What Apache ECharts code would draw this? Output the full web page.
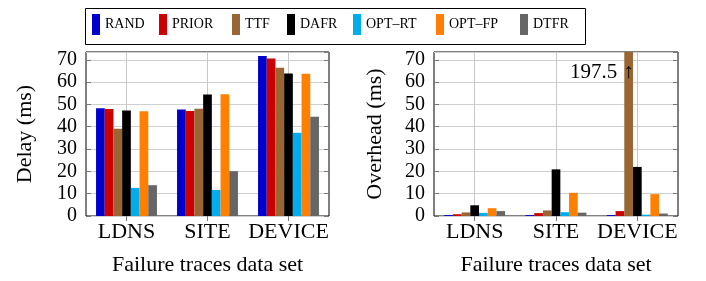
<!DOCTYPE html>
<html><head><meta charset="utf-8">
<script src="https://cdn.jsdelivr.net/npm/echarts@6/dist/echarts.min.js"></script>
<style>html,body{margin:0;padding:0;background:#fff}#c{width:706px;height:281px}</style>
</head><body><div id="c"></div>
<script>
const categories = ['LDNS', 'SITE', 'DEVICE'];
const seriesNames = ['RAND', 'PRIOR', 'TTF', 'DAFR', 'OPT–RT', 'OPT–FP', 'DTFR'];
const seriesColors = ['#0000cc', '#cc0000', '#996633', '#000000', '#00aeef', '#ff8000', '#666666'];

const delayRAND  = [48.3, 47.7, 71.7];
const delayPRIOR = [48.0, 47.1, 70.6];
const delayTTF   = [39.1, 48.1, 66.4];
const delayDAFR  = [47.3, 54.5, 63.9];
const delayOPTRT = [12.6, 11.7, 37.3];
const delayOPTFP = [47.0, 54.6, 63.8];
const delayDTFR  = [13.8, 20.1, 44.5];

const overheadRAND  = [0.4, 0.4, 0.4];
const overheadPRIOR = [0.8, 1.3, 2.2];
const overheadTTF   = [1.6, 2.5, 197.5];
const overheadDAFR  = [4.8, 20.9, 22.0];
const overheadOPTRT = [1.4, 1.7, 0.6];
const overheadOPTFP = [3.5, 10.4, 9.8];
const overheadDTFR  = [2.2, 1.5, 1.1];

const yTickLabels = [0, 10, 20, 30, 40, 50, 60, 70];
const yMax = 73.5;

const delaySets = [delayRAND, delayPRIOR, delayTTF, delayDAFR, delayOPTRT, delayOPTFP, delayDTFR];
const overheadSets = [overheadRAND, overheadPRIOR, overheadTTF, overheadDAFR, overheadOPTRT, overheadOPTFP, overheadDTFR];

const FONT = '"Liberation Serif", "DejaVu Serif", serif';
const chart = echarts.init(document.getElementById('c'), null, {renderer: 'canvas'});

const legendLefts = [92, 159, 232, 287, 353, 436, 520];
const legends = seriesNames.map((n, i) => ({
  data: [n], left: legendLefts[i], top: 14, padding: 0,
  icon: 'rect', itemWidth: 8, itemHeight: 21, itemGap: 0,
  selectedMode: false,
  textStyle: {fontFamily: FONT, fontSize: 14, color: '#000'}
}));

function yAxes(gridIndex, name, gap) {
  const base = {type: 'value', gridIndex, min: 0, max: yMax, interval: 10};
  return [
    Object.assign({}, base, {
      position: 'left',
      name, nameLocation: 'middle', nameGap: gap,
      nameTextStyle: {fontFamily: FONT, fontSize: 22, color: '#000'},
      axisLine: {show: false},
      axisTick: {show: true, inside: true, length: 5, lineStyle: {color: '#777'}},
      axisLabel: {fontFamily: FONT, fontSize: 20, color: '#000', margin: 9, showMaxLabel: false,
        formatter: v => yTickLabels.includes(v) ? String(v) : ''},
      splitLine: {show: true, lineStyle: {color: '#cfcfcf', width: 1}}
    }),
    Object.assign({}, base, {
      position: 'right',
      axisLine: {show: false},
      axisTick: {show: true, inside: true, length: 5, lineStyle: {color: '#777'}},
      axisLabel: {show: false},
      splitLine: {show: false}
    })
  ];
}

function xAxes(gridIndex) {
  return [
    {
      type: 'category', gridIndex, data: categories, position: 'bottom',
      name: 'Failure traces data set', nameLocation: 'middle', nameGap: 38,
      nameTextStyle: {fontFamily: FONT, fontSize: 22, color: '#000'},
      axisLine: {show: false},
      axisTick: {show: true, inside: true, alignWithLabel: true, length: 5, lineStyle: {color: '#777'}},
      axisLabel: {fontFamily: FONT, fontSize: 22, color: '#000', margin: 5, interval: 0},
      splitLine: {show: false}
    },
    {
      type: 'category', gridIndex, data: categories, position: 'top',
      axisLine: {show: false},
      axisTick: {show: true, inside: true, alignWithLabel: true, length: 5, lineStyle: {color: '#777'}},
      axisLabel: {show: false},
      splitLine: {show: false}
    }
  ];
}

const series = [];
// vertical grid lines through category centres (behind bars)
[0, 2].forEach(ax => {
  series.push({
    type: 'line', xAxisIndex: ax, yAxisIndex: ax, data: [], z: 1, silent: true,
    markLine: {
      silent: true, symbol: 'none', animation: false, z: 1,
      label: {show: false},
      lineStyle: {color: '#c8c8c8', width: 1, type: 'solid'},
      data: categories.map(c => ({xAxis: c}))
    }
  });
});
seriesNames.forEach((n, i) => {
  series.push({
    name: n, type: 'bar', xAxisIndex: 0, yAxisIndex: 0, z: 3,
    data: delaySets[i], barWidth: 8.7, barGap: '0%',
    itemStyle: {color: seriesColors[i]}, clip: true, silent: true
  });
});
seriesNames.forEach((n, i) => {
  series.push({
    name: n, type: 'bar', xAxisIndex: 2, yAxisIndex: 2, z: 3,
    data: overheadSets[i].map(v => v > yMax ? {
      value: v,
      label: {show: true, position: 'insideTop', formatter: '{a|{c}}{b|↑}', align: 'right',
        distance: 2, offset: [5, 8],
        rich: {
          a: {fontFamily: FONT, fontSize: 21, color: '#000', padding: [0, 6, 0, 0]},
          b: {fontFamily: FONT, fontSize: 21, color: '#000'}
        }}
    } : v),
    barWidth: 8.7, barGap: '0%',
    itemStyle: {color: seriesColors[i]}, clip: true, silent: true
  });
});

chart.setOption({
  animation: false,
  backgroundColor: '#fff',
  legend: legends,
  grid: [
    {left: 86, top: 52, width: 243, height: 169, show: true, borderColor: '#000', borderWidth: 1, backgroundColor: 'transparent'},
    {left: 434, top: 52, width: 244, height: 169, show: true, borderColor: '#000', borderWidth: 1, backgroundColor: 'transparent'}
  ],
  xAxis: [...xAxes(0), ...xAxes(1)],
  yAxis: [...yAxes(0, 'Delay (ms)', 50), ...yAxes(1, 'Overhead (ms)', 48)],
  series,
  graphic: [
    {type: 'rect', shape: {x: 85.5, y: 8.5, width: 500, height: 36}, style: {fill: 'none', stroke: '#000', lineWidth: 1}, silent: true}
  ]
});
</script>
</body></html>
